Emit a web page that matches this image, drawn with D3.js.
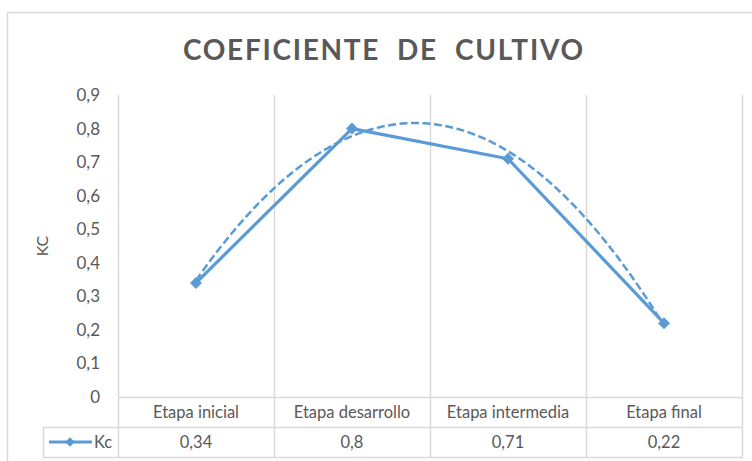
<!DOCTYPE html>
<html>
<head>
<meta charset="utf-8">
<script src="https://cdn.jsdelivr.net/npm/d3@7"></script>
<style>
  html, body { margin: 0; padding: 0; background: #ffffff; }
  svg { display: block; }
  text { font-family: Lato, "Open Sans", sans-serif; fill: #595959; }
</style>
</head>
<body>
<svg id="chart" width="752" height="461"></svg>
<script>
const titleText = "COEFICIENTE  DE  CULTIVO";
const yAxisLabel = "KC";
const seriesName = "Kc";
const categories = ["Etapa inicial", "Etapa desarrollo", "Etapa intermedia", "Etapa final"];
const kcValues = [0.34, 0.8, 0.71, 0.22];
const kcLabels = ["0,34", "0,8", "0,71", "0,22"];
const yTicks = [0, 0.1, 0.2, 0.3, 0.4, 0.5, 0.6, 0.7, 0.8, 0.9];

const svg = d3.select("#chart");
const blue = "#5B9BD5";
const grid = "#d9d9d9";

const plot = { left: 118, right: 742, top: 95, bottom: 397 };
const tableRow1 = 427, tableRow2 = 457, legendLeft = 43;

// outer chart border
svg.append("rect").attr("x", 7.5).attr("y", 12.5).attr("width", 800).attr("height", 500)
  .attr("fill", "none").attr("stroke", grid).attr("stroke-width", 1.5);

const x = d3.scaleBand().domain(categories).range([plot.left, plot.right]).padding(0);
const y = d3.scaleLinear().domain([0, 0.9]).range([plot.bottom, plot.top]);

// title
svg.append("text").attr("x", 383).attr("y", 60).attr("text-anchor", "middle")
  .attr("font-size", 28).attr("font-weight", "bold")
  .attr("textLength", 400).attr("lengthAdjust", "spacing")
  .style("white-space", "pre")
  .text(titleText);

// vertical gridlines (category boundaries)
const bounds = categories.map(c => x(c)).concat([x(categories[categories.length - 1]) + x.bandwidth()]);
svg.append("g").selectAll("line").data(bounds).join("line")
  .attr("x1", d => d + 0.5).attr("x2", d => d + 0.5)
  .attr("y1", plot.top).attr("y2", tableRow2)
  .attr("stroke", grid).attr("stroke-width", 1.5);

// table horizontal lines
svg.append("line").attr("x1", plot.left).attr("x2", plot.right + 1).attr("y1", plot.bottom + 0.5).attr("y2", plot.bottom + 0.5)
  .attr("stroke", grid).attr("stroke-width", 1.5);
svg.append("line").attr("x1", legendLeft).attr("x2", plot.right + 1).attr("y1", tableRow1 + 0.5).attr("y2", tableRow1 + 0.5)
  .attr("stroke", grid).attr("stroke-width", 1.5);
svg.append("line").attr("x1", legendLeft).attr("x2", plot.right + 1).attr("y1", tableRow2 + 0.5).attr("y2", tableRow2 + 0.5)
  .attr("stroke", grid).attr("stroke-width", 1.5);
svg.append("line").attr("x1", legendLeft + 0.5).attr("x2", legendLeft + 0.5).attr("y1", tableRow1).attr("y2", tableRow2 + 1)
  .attr("stroke", grid).attr("stroke-width", 1.5);

// y axis
const yAxis = d3.axisLeft(y).tickValues(yTicks).tickSize(0).tickPadding(18)
  .tickFormat(d => d3.format(".1~f")(d).replace(".", ","));
const gy = svg.append("g").attr("transform", `translate(${plot.left},0)`).call(yAxis);
gy.select(".domain").remove();
gy.selectAll("text").attr("font-size", 17).attr("fill", "#595959")
  .style("font-family", "Lato, 'Open Sans', sans-serif");

// y axis title
svg.append("text").attr("transform", "translate(48,246) rotate(-90)")
  .attr("text-anchor", "middle").attr("font-size", 16).text(yAxisLabel);

// category labels in table
svg.append("g").selectAll("text").data(categories).join("text")
  .attr("x", d => x(d) + x.bandwidth() / 2).attr("y", 418)
  .attr("text-anchor", "middle").attr("font-size", 16.5).text(d => d);

// value labels in table
svg.append("g").selectAll("text").data(kcLabels).join("text")
  .attr("x", (d, i) => x(categories[i]) + x.bandwidth() / 2).attr("y", 448)
  .attr("text-anchor", "middle").attr("font-size", 16.5).text(d => d);

// legend key in table
const ly = 442;
svg.append("line").attr("x1", 49).attr("x2", 92).attr("y1", ly).attr("y2", ly)
  .attr("stroke", blue).attr("stroke-width", 3);
svg.append("path").attr("d", d3.symbol(d3.symbolSquare, 45)())
  .attr("transform", `translate(70,${ly}) rotate(45)`).attr("fill", blue);
svg.append("text").attr("x", 94).attr("y", 448).attr("font-size", 16.5).text(seriesName);

// polynomial (order 2) trendline fitted to the series
const n = kcValues.length;
const xs = d3.range(1, n + 1);
function fitQuadratic(X, Y) {
  let S = [0, 0, 0, 0, 0], T = [0, 0, 0];
  X.forEach((xv, i) => {
    for (let k = 0; k < 5; k++) S[k] += Math.pow(xv, k);
    for (let k = 0; k < 3; k++) T[k] += Math.pow(xv, k) * Y[i];
  });
  const A = [[S[0], S[1], S[2], T[0]], [S[1], S[2], S[3], T[1]], [S[2], S[3], S[4], T[2]]];
  for (let i = 0; i < 3; i++) {
    for (let j = i + 1; j < 3; j++) {
      const f = A[j][i] / A[i][i];
      for (let k = i; k < 4; k++) A[j][k] -= f * A[i][k];
    }
  }
  const c = [0, 0, 0];
  for (let i = 2; i >= 0; i--) {
    let s = A[i][3];
    for (let k = i + 1; k < 3; k++) s -= A[i][k] * c[k];
    c[i] = s / A[i][i];
  }
  return c;
}
const coef = fitQuadratic(xs, kcValues);
const xIdx = d3.scaleLinear().domain([1, n])
  .range([x(categories[0]) + x.bandwidth() / 2, x(categories[n - 1]) + x.bandwidth() / 2]);
const trendPts = d3.range(0, 101).map(i => {
  const t = 1 + (n - 1) * i / 100;
  return [xIdx(t), y(coef[0] + coef[1] * t + coef[2] * t * t)];
});
svg.append("path").attr("d", d3.line()(trendPts))
  .attr("fill", "none").attr("stroke", blue).attr("stroke-width", 2.5)
  .attr("stroke-dasharray", "8,3.5");

// data line
const line = d3.line().x((d, i) => x(categories[i]) + x.bandwidth() / 2).y(d => y(d));
svg.append("path").attr("d", line(kcValues))
  .attr("fill", "none").attr("stroke", blue).attr("stroke-width", 3.2).attr("stroke-linejoin", "round");

// markers
svg.append("g").selectAll("path").data(kcValues).join("path")
  .attr("d", d3.symbol(d3.symbolSquare, 72)())
  .attr("transform", (d, i) => `translate(${x(categories[i]) + x.bandwidth() / 2},${y(d)}) rotate(45)`)
  .attr("fill", blue);
</script>
</body>
</html>
